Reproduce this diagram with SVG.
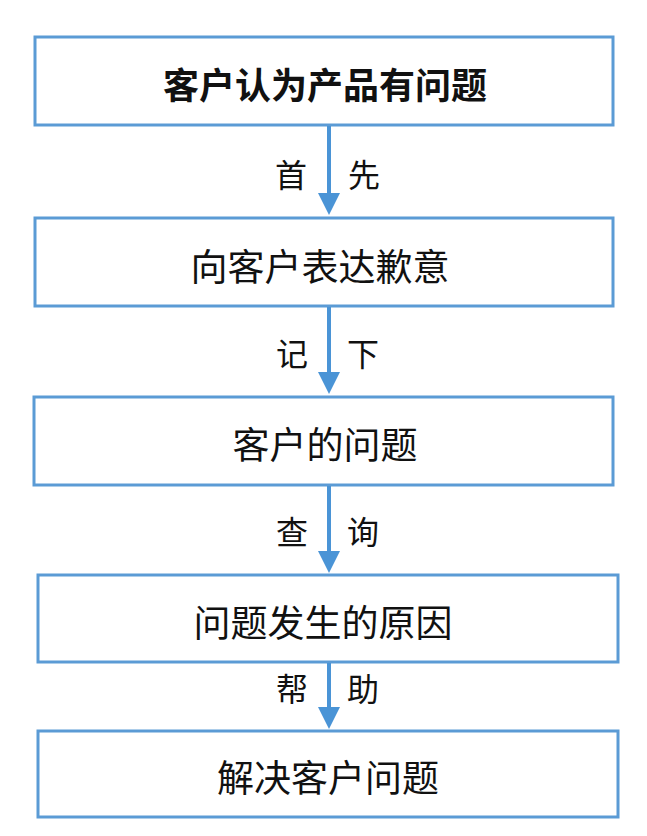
<svg xmlns="http://www.w3.org/2000/svg" width="647" height="836" viewBox="0 0 647 836">
<defs>
<style>
.box{fill:#ffffff;stroke:#5b9bd5;stroke-width:3}
.t{font-family:"Noto Sans CJK SC","Noto Sans",sans-serif;font-size:37px;fill:#111;text-anchor:middle}
.b{font-weight:bold;font-size:36px}
.l{font-family:"Noto Sans CJK SC","Noto Sans",sans-serif;font-size:32px;fill:#111;text-anchor:middle}
.c{stroke:#4a94d6;stroke-width:4;fill:none}
.ah{fill:#4a94d6}
</style>
</defs>
<rect width="647" height="836" fill="#ffffff"/>
<g id="n1"><rect class="box" x="35" y="37" width="578" height="88"/><text class="t b" x="325" y="99">客户认为产品有问题</text></g>
<g id="n2"><rect class="box" x="35" y="218" width="578" height="88"/><text class="t" x="320" y="281">向客户表达歉意</text></g>
<g id="n3"><rect class="box" x="34" y="397" width="579" height="88"/><text class="t" x="325" y="459">客户的问题</text></g>
<g id="n4"><rect class="box" x="38" y="575" width="580" height="87"/><text class="t" x="323" y="637">问题发生的原因</text></g>
<g id="n5"><rect class="box" x="38" y="731" width="580" height="86"/><text class="t" x="328" y="792">解决客户问题</text></g>
<g id="connectors">
<line class="c" x1="329" y1="126" x2="329" y2="195"/><path class="ah" d="M318,193 L340,193 L329,215 Z"/>
<line class="c" x1="329" y1="307" x2="329" y2="374"/><path class="ah" d="M318,372 L340,372 L329,394 Z"/>
<line class="c" x1="329" y1="486" x2="329" y2="553"/><path class="ah" d="M318,551 L340,551 L329,573 Z"/>
<line class="c" x1="329" y1="663" x2="329" y2="709"/><path class="ah" d="M318,707 L340,707 L329,729 Z"/>
<text class="l" x="291" y="187">首</text><text class="l" x="364" y="187">先</text>
<text class="l" x="292" y="366">记</text><text class="l" x="363" y="366">下</text>
<text class="l" x="292" y="544">查</text><text class="l" x="363" y="544">询</text>
<text class="l" x="292" y="701">帮</text><text class="l" x="363" y="701">助</text>
</g>
</svg>
